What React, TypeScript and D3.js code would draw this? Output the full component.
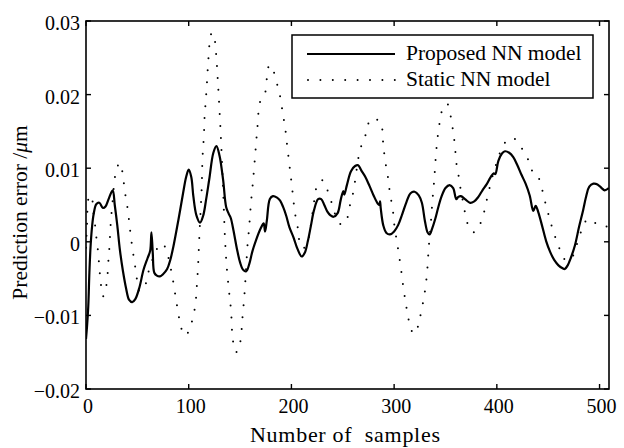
import React from "react";
import * as d3 from "d3";

// ---- data ----
const propX = [0, 1, 2.2, 3.3, 4.5, 6, 7.5, 10, 13, 16.5, 19, 22, 26, 28, 30.5, 33, 36, 39, 42, 45, 48, 52, 56, 60, 62.5, 63.7, 65, 66.5, 69, 72, 75, 79, 82, 85, 90, 94.5, 97.5, 100, 102.5, 104.5, 107.5, 111, 114, 117, 120, 124, 127, 130, 133.5, 136.5, 139, 141, 143.5, 147, 150, 153, 156, 159, 162, 166, 170, 173, 174.3, 176, 179, 182, 186, 189, 192, 195, 198, 202, 206, 210, 213, 216, 219, 222, 226, 229, 232, 235, 238, 241, 245, 248, 250.5, 251.5, 254, 258, 262, 265, 268, 272, 276, 280, 284, 285.8, 286.3, 287, 289.5, 292.5, 296, 300, 304, 308, 312, 316, 320, 324, 327, 330, 332.5, 334.5, 337, 340, 343, 346, 350, 354, 357.5, 360.5, 362.5, 365, 369, 374, 378, 382, 386, 390, 394, 397, 398.5, 401.5, 405, 408, 412, 416, 420, 424, 428, 432, 435.5, 437.8, 440.4, 444, 448, 452, 456, 460, 464, 466, 469, 472, 476, 480, 484, 487, 490, 494, 498, 502, 505, 509];
const propY = [-0.0132, -0.0115, -0.0088, -0.0042, -0.0005, 0.0022, 0.0038, 0.0051, 0.0053, 0.0046, 0.0048, 0.0058, 0.007, 0.005, 0.0022, -0.0011, -0.004, -0.0063, -0.0079, -0.0082, -0.0078, -0.0062, -0.0038, -0.0022, -0.0012, 0.0013, -0.0015, -0.0042, -0.0046, -0.0047, -0.0044, -0.0037, -0.0025, -0.0007, 0.003, 0.0066, 0.0088, 0.0098, 0.0088, 0.0062, 0.0036, 0.0026, 0.0035, 0.0058, 0.0085, 0.0121, 0.013, 0.0117, 0.0084, 0.0047, 0.0038, 0.0032, 0.0016, -0.001, -0.0028, -0.0038, -0.004, -0.003, -0.0013, 0.0004, 0.0018, 0.0025, 0.0014, 0.0028, 0.0058, 0.0062, 0.006, 0.0056, 0.0047, 0.0035, 0.002, 0.0006, -0.001, -0.002, -0.0015, 0.0001, 0.0022, 0.0043, 0.0058, 0.0058, 0.005, 0.0041, 0.0036, 0.0034, 0.0039, 0.0057, 0.0069, 0.0064, 0.0077, 0.0096, 0.0103, 0.0104, 0.0097, 0.0088, 0.0076, 0.0063, 0.0052, 0.005, 0.0055, 0.0045, 0.0022, 0.0012, 0.001, 0.0014, 0.0023, 0.0038, 0.0054, 0.0066, 0.0068, 0.0063, 0.0053, 0.0028, 0.0013, 0.001, 0.0018, 0.0031, 0.0047, 0.0061, 0.0073, 0.0077, 0.0073, 0.0058, 0.0061, 0.0062, 0.0058, 0.0053, 0.0055, 0.0061, 0.007, 0.0078, 0.0088, 0.0093, 0.0092, 0.011, 0.012, 0.0123, 0.0121, 0.0115, 0.0104, 0.0091, 0.0079, 0.0063, 0.0042, 0.0049, 0.004, 0.0022, 0.0001, -0.0014, -0.0025, -0.0032, -0.0036, -0.0037, -0.0032, -0.0022, -0.0005, 0.002, 0.0043, 0.0062, 0.0075, 0.0079, 0.0078, 0.0073, 0.007, 0.0073];

const staticX = [0, 1, 2, 3.5, 5.5, 7, 8.8, 10.4, 12, 13, 14.3, 16.2, 18, 19.5, 20.8, 21.7, 22.7, 23.5, 24.3, 25.6, 28.2, 30.5, 33, 35, 36.3, 38, 40.2, 41.9, 43.5, 45.4, 47.5, 49.5, 52, 55, 58.4, 61, 64, 68, 72, 75.5, 79, 82, 84.4, 86.7, 88.9, 91.5, 95.4, 98, 100.6, 104.5, 106.8, 107.8, 108.7, 109.4, 110, 110.6, 111.3, 112, 112.7, 113.4, 114.3, 115, 115.5, 116.5, 117.5, 118.3, 119.2, 120.2, 122.5, 124.5, 126.5, 128.5, 130.5, 132.3, 133.7, 135.3, 137, 139.6, 141.2, 142.8, 145.7, 148, 150, 151.6, 152.5, 153.8, 154.8, 156.4, 157.4, 158.7, 159.7, 160.8, 162.2, 164.6, 166.8, 169.4, 172, 174.5, 176.3, 178.5, 182.4, 186.3, 189.5, 191.5, 193.8, 195.4, 197, 198.6, 200.3, 203.5, 206.7, 208.4, 211.5, 215.5, 218.1, 222, 224.6, 228, 231.1, 233.5, 236.6, 240.8, 245.7, 249.5, 253.8, 257, 260.3, 263.5, 266.8, 271.7, 275.6, 279, 283, 287.2, 288.8, 290.2, 292.1, 294.4, 296, 298.6, 299.9, 301.9, 304.1, 306.5, 309, 311.5, 314, 316.5, 319, 321.5, 324, 326.5, 329.1, 331.1, 332.4, 333.3, 334.3, 335.6, 336.6, 337.6, 338.9, 339.8, 340.8, 342.1, 344, 346.3, 349, 352, 355.4, 357.6, 359.3, 360.3, 362.6, 364.8, 367.4, 370, 374, 378, 382, 386.9, 390.2, 393.4, 397, 400.9, 405.7, 411, 416, 420, 424.8, 431.4, 435.6, 438, 440.4, 444.3, 447.6, 451.1, 455, 459.9, 464.8, 468.5, 472.9, 477.8, 482.3, 486, 489.1, 494, 499.8, 505, 509];
const staticY = [-0.0008, 0.0025, 0.0056, 0.0063, 0.0061, 0.0042, 0.0023, 0.0002, -0.0017, -0.0036, -0.0054, -0.0074, -0.0072, -0.0062, -0.0048, -0.0028, -0.0009, 0.0011, 0.003, 0.005, 0.0088, 0.0102, 0.0107, 0.0098, 0.0086, 0.0067, 0.0048, 0.0029, 0.0009, -0.0011, -0.003, -0.005, -0.0067, -0.0065, -0.0056, -0.004, -0.0027, -0.0013, -0.0003, -0.0004, -0.0015, -0.0033, -0.005, -0.007, -0.0089, -0.0109, -0.0127, -0.0126, -0.0119, -0.0101, -0.0081, -0.0062, -0.0043, -0.0024, -0.0004, 0.0015, 0.0034, 0.0054, 0.0075, 0.0113, 0.0133, 0.0152, 0.0171, 0.019, 0.021, 0.023, 0.0249, 0.0268, 0.0284, 0.028, 0.0258, 0.0215, 0.0165, 0.0112, 0.0064, 0.0005, -0.0034, -0.0072, -0.0093, -0.0131, -0.015, -0.0148, -0.0138, -0.0118, -0.01, -0.008, -0.0061, -0.0023, -0.0002, 0.0017, 0.0036, 0.0056, 0.0076, 0.0116, 0.0154, 0.019, 0.0196, 0.0203, 0.0225, 0.024, 0.0232, 0.0213, 0.0194, 0.0175, 0.0156, 0.0136, 0.0117, 0.0098, 0.0078, 0.0039, 0.0015, -0.0004, -0.0009, -0.0001, 0.0016, 0.0054, 0.0075, 0.0083, 0.0083, 0.0075, 0.0065, 0.0045, 0.0027, 0.0023, 0.003, 0.005, 0.0068, 0.0098, 0.0125, 0.0143, 0.0163, 0.0168, 0.0166, 0.0163, 0.0142, 0.0122, 0.0103, 0.0084, 0.0065, 0.0045, 0.0026, 0.0007, -0.0012, -0.0035, -0.0062, -0.0085, -0.0105, -0.0119, -0.0125, -0.0122, -0.011, -0.0094, -0.0075, -0.0055, -0.0036, -0.0016, 0.0003, 0.0023, 0.0043, 0.0061, 0.0082, 0.01, 0.012, 0.0139, 0.0159, 0.0177, 0.0186, 0.0187, 0.0168, 0.0148, 0.0129, 0.011, 0.0091, 0.0071, 0.0052, 0.0033, 0.0016, 0.0013, 0.0019, 0.0037, 0.0057, 0.0076, 0.0095, 0.0112, 0.013, 0.0139, 0.0141, 0.0136, 0.0126, 0.0109, 0.0092, 0.0088, 0.0087, 0.007, 0.0051, 0.0033, 0.0014, -0.0005, -0.0022, -0.0026, -0.0022, -0.0004, 0.0015, 0.0027, 0.0031, 0.0027, 0.0023, 0.0022, 0.0019];

const xTicks = [0, 100, 200, 300, 400, 500];
const yTicks = [-0.02, -0.01, 0, 0.01, 0.02, 0.03];
const yTickLabels = ["\u22120.02", "\u22120.01", "0", "0.01", "0.02", "0.03"];
const seriesNames = ["Proposed NN model", "Static NN model"];

const W = 624;
const H = 448;
const plot = { left: 86, right: 609, top: 21, bottom: 389 };
const X_MAX = 509.2;
const FONT = "'Liberation Serif', 'Times New Roman', Times, serif";
const txt: React.CSSProperties = { fontFamily: FONT, whiteSpace: "pre" };

export default function App() {
  const x = d3.scaleLinear().domain([0, X_MAX]).range([plot.left, plot.right]);
  const y = d3.scaleLinear().domain([-0.02, 0.03]).range([plot.bottom, plot.top]);

  const line = d3
    .line<[number, number]>()
    .x((d) => x(d[0]))
    .y((d) => y(d[1]))
    .curve(d3.curveCatmullRom.alpha(0.5));

  const propPath = line(propX.map((v, i) => [v, propY[i]] as [number, number])) || "";
  const staticPath = line(staticX.map((v, i) => [v, staticY[i]] as [number, number])) || "";

  const tl = 5;
  const lg = { x: 292, y: 35, w: 301, h: 63 };

  return (
    <svg
      width={W}
      height={H}
      viewBox={`0 0 ${W} ${H}`}
      style={{ position: "absolute", left: 0, top: 0, background: "#fff" }}
    >
      <rect x={0} y={0} width={W} height={H} fill="#fff" />
      <defs>
        <clipPath id="plotclip">
          <rect x={plot.left} y={plot.top} width={plot.right - plot.left} height={plot.bottom - plot.top} />
        </clipPath>
      </defs>

      {/* data */}
      <g clipPath="url(#plotclip)">
        <path d={staticPath} fill="none" stroke="#000" strokeWidth={2} strokeLinecap="round" strokeDasharray="0 12" />
        <path d={propPath} fill="none" stroke="#000" strokeWidth={2.2} strokeLinejoin="round" />
      </g>

      {/* frame */}
      <rect
        x={plot.left}
        y={plot.top}
        width={plot.right - plot.left}
        height={plot.bottom - plot.top}
        fill="none"
        stroke="#000"
        strokeWidth={1.6}
      />

      {/* x ticks */}
      {xTicks.map((t) => (
        <g key={"xt" + t}>
          <line x1={x(t)} x2={x(t)} y1={plot.bottom} y2={plot.bottom - tl} stroke="#000" strokeWidth={1.4} />
          <line x1={x(t)} x2={x(t)} y1={plot.top} y2={plot.top + tl} stroke="#000" strokeWidth={1.4} />
          <text x={x(t) + 2} y={413} textAnchor="middle" fontSize={20} fill="#000" style={txt}>
            {t}
          </text>
        </g>
      ))}

      {/* y ticks */}
      {yTicks.map((t, i) => (
        <g key={"yt" + t}>
          <line x1={plot.left} x2={plot.left + tl} y1={y(t)} y2={y(t)} stroke="#000" strokeWidth={1.4} />
          <line x1={plot.right} x2={plot.right - tl} y1={y(t)} y2={y(t)} stroke="#000" strokeWidth={1.4} />
          <text x={80} y={y(t) + 9} textAnchor="end" fontSize={20} fill="#000" style={txt}>
            {yTickLabels[i]}
          </text>
        </g>
      ))}

      {/* axis labels */}
      <text
        x={345}
        y={442}
        textAnchor="middle"
        fontSize={22}
        fill="#000"
        style={txt}
        textLength={190}
        lengthAdjust="spacing"
      >
        {"Number of  samples"}
      </text>
      <text transform="translate(27,212.5) rotate(-90)" textAnchor="middle" fontSize={21.5} fill="#000" style={txt}>
        Prediction error /<tspan fontStyle="italic">μ</tspan>m
      </text>

      {/* legend */}
      <rect x={lg.x} y={lg.y} width={lg.w} height={lg.h} fill="#fff" stroke="#000" strokeWidth={1.5} />
      <line x1={307} x2={395} y1={54} y2={54} stroke="#000" strokeWidth={2.2} />
      <text x={406} y={59.5} fontSize={21.5} fill="#000" style={txt}>
        {seriesNames[0]}
      </text>
      <line x1={308} x2={396} y1={80} y2={80} stroke="#000" strokeWidth={2} strokeLinecap="round" strokeDasharray="0 12.4" />
      <text x={406} y={85.5} fontSize={21.5} fill="#000" style={txt}>
        {seriesNames[1]}
      </text>
    </svg>
  );
}
